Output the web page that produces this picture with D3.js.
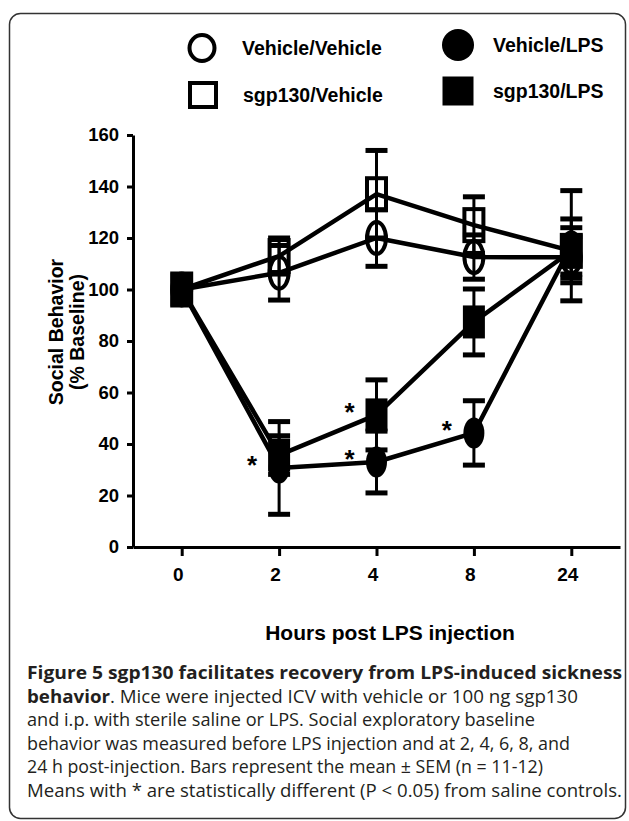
<!DOCTYPE html>
<html>
<head>
<meta charset="utf-8">
<script src="https://cdn.jsdelivr.net/npm/d3@7"></script>
<style>
	body { margin: 0; background: #fff; }
	svg { display: block; }
</style>
</head>
<body>
<svg id="chart" width="629" height="821"></svg>
<script>
// Data (% of baseline, mean and SEM)
var hours = ["0", "2", "4", "8", "24"];
var seriesNames = ["Vehicle/Vehicle", "sgp130/Vehicle", "Vehicle/LPS", "sgp130/LPS"];
var vehVehMean = [100, 106.5, 120, 112.6, 112.5];
var vehVehSem = [0, 10.6, 11, 8.6, 8];
var sgpVehMean = [100, 113, 137, 125, 115];
var sgpVehSem = [0, 7, 17, 11, 12.4];
var vehLpsMean = [100, 30.7, 33, 44.3, 117];
var vehLpsSem = [0, 18, 12, 12.5, 21.4];
var sgpLpsMean = [100, 35.7, 51.3, 87.4, 115];
var sgpLpsSem = [0, 7.5, 13.6, 12.8, 9];
var yTicks = [0, 20, 40, 60, 80, 100, 120, 140, 160];
// which points carry a significance star: [series index, hour]
var starPoints = [[2, "2"], [3, "4"], [2, "4"], [2, "8"]];
var captionLines = [
	[["Figure 5 sgp130 facilitates recovery from LPS-induced sickness", true]],
	[["behavior", true], [". Mice were injected ICV with vehicle or 100 ng sgp130", false]],
	[["and i.p. with sterile saline or LPS. Social exploratory baseline", false]],
	[["behavior was measured before LPS injection and at 2, 4, 6, 8, and", false]],
	[["24 h post-injection. Bars represent the mean \u00b1 SEM (n = 11-12)", false]],
	[["Means with * are statistically different (P < 0.05) from saline controls.", false]]
];

var means = [vehVehMean, sgpVehMean, vehLpsMean, sgpLpsMean],
	sems = [vehVehSem, sgpVehSem, vehLpsSem, sgpLpsSem],
	// marker shape and fill for each series
	shapes = ["circle", "square", "circle", "square"],
	filled = [false, false, true, true];

var svg = d3.select("#chart"),
	boldFont = "'Liberation Sans', Arial, sans-serif",
	capFont = "'Open Sans', 'Noto Sans', sans-serif";

// frame round figure and caption
svg.append("rect")
	.attr("x", 9.5).attr("y", 13.5)
	.attr("width", 616).attr("height", 805)
	.attr("rx", 11)
	.attr("fill", "none")
	.attr("stroke", "#333")
	.attr("stroke-width", 1.5);

var x = d3.scalePoint().domain(hours).range([133, 620]).padding(0.5),
	y = d3.scaleLinear().domain([0, 160]).range([547, 135]);

// --- AXES --- //
var yAxis = svg.append("g")
	.attr("transform", "translate(133,0)")
	.call(d3.axisLeft(y).tickValues(yTicks).tickSize(6).tickPadding(8).tickSizeOuter(0));
var xAxis = svg.append("g")
	.attr("transform", "translate(0,547)")
	.call(d3.axisBottom(x).tickSize(9).tickPadding(12).tickSizeOuter(0));

svg.selectAll(".domain, .tick line")
	.attr("stroke", "#000")
	.attr("stroke-width", 3);
svg.selectAll(".tick text")
	.attr("font-family", boldFont)
	.attr("font-weight", "bold")
	.attr("font-size", 18.5)
	.attr("fill", "#000");
xAxis.selectAll(".tick text").attr("dx", -4).attr("font-size", 19);

svg.append("text")
	.attr("x", 390).attr("y", 640)
	.attr("text-anchor", "middle")
	.attr("font-family", boldFont).attr("font-weight", "bold").attr("font-size", 21)
	.text("Hours post LPS injection");

var yTitle = svg.append("text")
	.attr("transform", "translate(63,332) rotate(-90)")
	.attr("text-anchor", "middle")
	.attr("font-family", boldFont).attr("font-weight", "bold").attr("font-size", 19.5);
yTitle.append("tspan").attr("x", 0).attr("dy", 0).text("Social Behavior");
yTitle.append("tspan").attr("x", 0).attr("dy", 21).text("(% Baseline)");

// --- SERIES --- //
var line = d3.line()
	.x(function(d) { return x(d.hour); })
	.y(function(d) { return y(d.mean); });

function seriesData(s) {
	return hours.map(function(h, i) { return { hour: h, mean: means[s][i], sem: sems[s][i] }; });
}

// draws one marker into a selection, w/h are outer sizes
function drawMarker(sel, s, w, h) {
	var sw = filled[s] ? 0 : 4;
	if (shapes[s] === "circle") {
		sel.append("ellipse")
			.attr("rx", (w - sw) / 2).attr("ry", (h - sw) / 2);
	} else {
		sel.append("rect")
			.attr("x", -(w - sw) / 2).attr("y", -(h - sw) / 2)
			.attr("width", w - sw).attr("height", h - sw);
	}
	sel.selectAll("ellipse, rect")
		.attr("fill", filled[s] ? "#000" : "none")
		.attr("stroke", "#000")
		.attr("stroke-width", sw);
}

means.forEach(function(m, s) {
	var data = seriesData(s),
		g = svg.append("g").attr("class", "series");

	g.append("path")
		.datum(data)
		.attr("d", line)
		.attr("fill", "none")
		.attr("stroke", "#000")
		.attr("stroke-width", 4.5)
		.attr("stroke-linejoin", "round");

	var bars = g.selectAll(".err").data(data.filter(function(d) { return d.sem > 0; }))
		.enter().append("g")
		.attr("class", "err")
		.attr("transform", function(d) { return "translate(" + x(d.hour) + ",0)"; });
	bars.append("line")
		.attr("y1", function(d) { return y(d.mean + d.sem); })
		.attr("y2", function(d) { return y(d.mean - d.sem); })
		.attr("stroke", "#000").attr("stroke-width", 3);
	bars.selectAll(".cap").data(function(d) { return [d.mean + d.sem, d.mean - d.sem]; })
		.enter().append("line")
		.attr("class", "cap")
		.attr("x1", -11).attr("x2", 11)
		.attr("y1", function(v) { return y(v); })
		.attr("y2", function(v) { return y(v); })
		.attr("stroke", "#000").attr("stroke-width", 5);

	g.selectAll(".pt").data(data)
		.enter().append("g")
		.attr("class", "pt")
		.attr("transform", function(d) { return "translate(" + x(d.hour) + "," + y(d.mean) + ")"; })
		.each(function() {
			var mw = filled[s] ? 22 : 23,
				mh = filled[s] ? 33 : 36;
			if (shapes[s] === "circle" && filled[s]) { mw = 21; mh = 31; }
			drawMarker(d3.select(this), s, mw, mh);
		});
});

// significance stars, left of the point
svg.selectAll(".star").data(starPoints)
	.enter().append("text")
	.attr("class", "star")
	.attr("x", function(d) { return x(d[1]) - 27; })
	.attr("y", function(d) { return y(means[d[0]][hours.indexOf(d[1])]) + 6; })
	.attr("text-anchor", "middle")
	.attr("font-family", boldFont).attr("font-weight", "bold").attr("font-size", 26)
	.text("*");

// --- LEGEND --- //
var legendPos = [[202, 48], [203, 95], [458, 45], [458, 91]],
	legendSize = [[29, 30], [30, 28], [32, 32], [31, 29]];

var legend = svg.selectAll(".legend").data(seriesNames)
	.enter().append("g")
	.attr("class", "legend")
	.attr("transform", function(d, i) { return "translate(" + legendPos[i][0] + "," + legendPos[i][1] + ")"; });

legend.each(function(d, i) {
	drawMarker(d3.select(this), i, legendSize[i][0], legendSize[i][1]);
});
legend.append("text")
	.attr("x", function(d, i) { return i < 2 ? 40 : 35; })
	.attr("y", 7)
	.attr("font-family", boldFont).attr("font-weight", "bold").attr("font-size", 19.5)
	.text(function(d) { return d; });

// --- CAPTION --- //
// right end of each caption line in the figure
var captionEnds = [622, 578, 535, 570, 543, 622];

captionLines.forEach(function(parts, li) {
	var t = svg.append("text")
		.attr("x", 27).attr("y", 679 + li * 23.5)
		.attr("font-family", capFont)
		.attr("font-size", 18.5)
		.attr("fill", "#231f20")
		.attr("textLength", captionEnds[li] - 27)
		.attr("lengthAdjust", "spacingAndGlyphs");
	parts.forEach(function(p) {
		t.append("tspan")
			.attr("font-weight", p[1] ? "bold" : "normal")
			.text(p[0]);
	});
});
</script>
</body>
</html>
